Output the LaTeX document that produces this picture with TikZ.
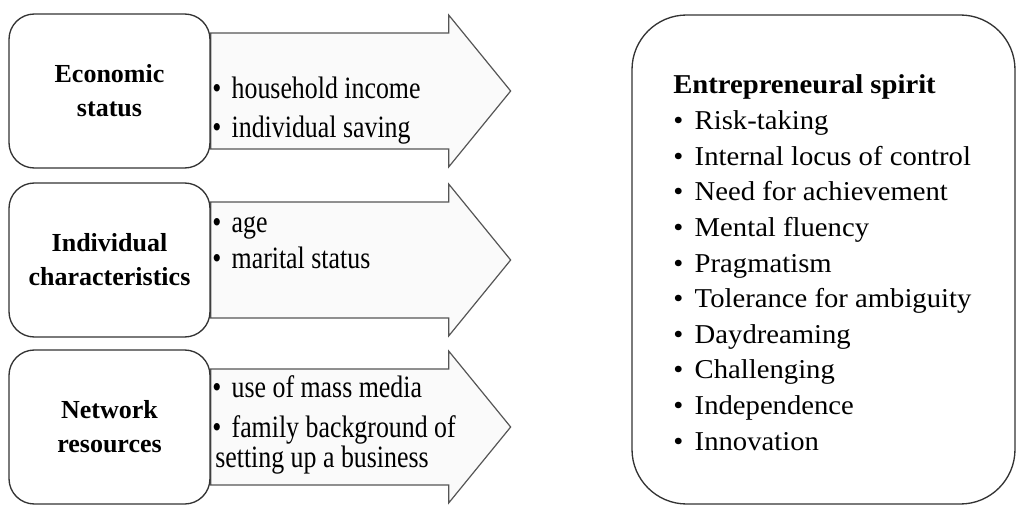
\documentclass[tikz,border=0pt]{standalone}
\usepackage{fontspec}
\setmainfont{Liberation Serif}
\usetikzlibrary{positioning,calc,backgrounds}
\definecolor{arrowgray}{HTML}{555555}
\definecolor{arrowfill}{HTML}{FAFAFA}
\definecolor{boxline}{HTML}{333333}
\tikzset{
  factorbox/.style={draw=boxline, line width=1pt, rounded corners=19pt, minimum width=150.75pt, minimum height=115.5pt, align=center, font=\fontsize{19.5}{25.5}\selectfont\bfseries},
  spiritbox/.style={draw=boxline, line width=1pt, rounded corners=41pt, minimum width=287.25pt, minimum height=366.75pt},
  blockarrow/.style={draw=arrowgray, fill=arrowfill, line width=0.9pt},
  factoritem/.style={anchor=base west, inner sep=0pt, font=\fontsize{19.4}{23}\selectfont},
  trait/.style={anchor=base west, inner sep=0pt, font=\fontsize{21.5}{26}\selectfont},
}
\newcommand{\bul}{\textbullet\hspace{0.4em}}
\newcommand{\tallline}[1]{\scalebox{1}[1.2]{#1}}
\newcommand{\flatline}[1]{\scalebox{1}[0.95]{#1}}

\begin{document}
\begin{tikzpicture}[x=0.75pt,y=-0.75pt]
\useasboundingbox (0,0) rectangle (1017,506);

% factors on the left
\node[factorbox] (econ) at (109.5,91) {Economic\\status};
\node[factorbox] (indiv) at (109.5,260) {Individual\\characteristics};
\node[factorbox] (netw) at (109.5,427) {Network\\resources};

% outcome box
\node[spiritbox] (spirit) at (823.5,259.5) {};

% block arrows, behind the boxes
\begin{scope}[on background layer]
\foreach \factor in {econ,indiv,netw}
  \draw[blockarrow] ($(\factor.east)+(0,-58)$) -- ++(238,0) -- ++(0,-18)
    -- ($(\factor.east)+(300,0)$) -- ($(\factor.east)+(238,76)$) -- ++(0,-18)
    -- ($(\factor.east)+(0,58)$) -- cycle;
\end{scope}

% items on the arrows
\node[factoritem] (econa) at (212,99) {\tallline{\bul household income}};
\node[factoritem] (econb) at (212,138) {\tallline{\bul individual saving}};
\node[factoritem] (indiva) at (212,232) {\tallline{\bul age}};
\node[factoritem] (indivb) at (212,268) {\tallline{\bul marital status}};
\node[factoritem] (netwa) at (212,397) {\tallline{\bul use of mass media}};
\node[factoritem] (netwb) at (212,437) {\tallline{\bul family background of}};
\node[factoritem] (netwc) at (215,467) {\tallline{setting up a business}};

% entrepreneurial spirit list
\node[trait, font=\fontsize{21.5}{26}\selectfont\bfseries] (spirittitle) at (673,94) {\flatline{Entrepreneural spirit}};
\foreach \trait [count=\i] in {Risk-taking, Internal locus of control, Need for achievement,
    Mental fluency, Pragmatism, Tolerance for ambiguity, Daydreaming, Challenging,
    Independence, Innovation}
  \node[trait] (trait\i) at (673,{94+35.6*\i}) {\flatline{\bul\trait}};
\end{tikzpicture}
\end{document}
